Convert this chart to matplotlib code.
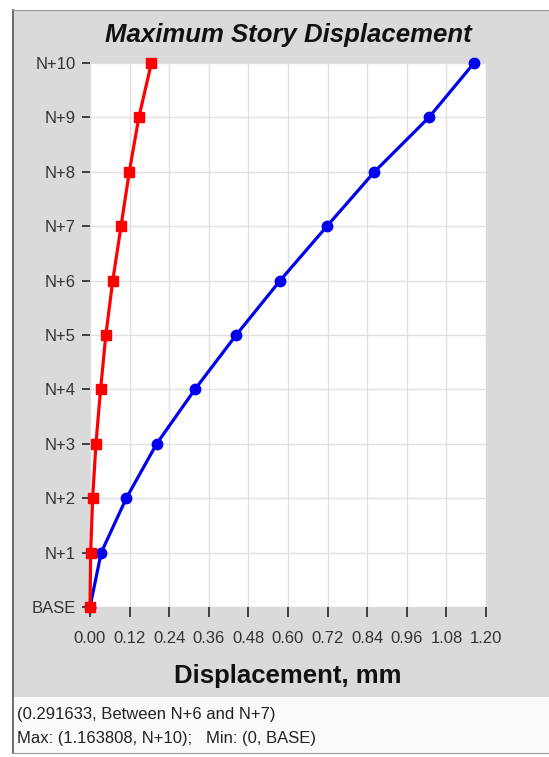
import matplotlib.pyplot as plt
from matplotlib.patches import Rectangle
from matplotlib.lines import Line2D
import numpy as np

stories = ["BASE", "N+1", "N+2", "N+3", "N+4", "N+5", "N+6", "N+7", "N+8", "N+9", "N+10"]
disp_blue = [0.0, 0.034, 0.110, 0.202, 0.318, 0.443, 0.576, 0.718, 0.862, 1.027, 1.163808]
disp_red = [0.0, 0.002, 0.008, 0.018, 0.032, 0.048, 0.069, 0.094, 0.119, 0.148, 0.186]
x_ticks = [0.00, 0.12, 0.24, 0.36, 0.48, 0.60, 0.72, 0.84, 0.96, 1.08, 1.20]
status_1 = "(0.291633, Between N+6 and N+7)"
status_2 = "Max: (1.163808, N+10);   Min: (0, BASE)"

plt.rcParams['font.family'] = ['Liberation Sans', 'DejaVu Sans']

W, H = 549, 757
fig = plt.figure(figsize=(W / 100, H / 100), dpi=100)
fig.patch.set_facecolor("white")

# gray panel + status strip + frame
fig.patches.append(Rectangle((13 / W, 1 - 697 / H), 1 - 13 / W, (697 - 10) / H,
                             transform=fig.transFigure, facecolor="#dadada",
                             edgecolor="none", zorder=-10))
fig.patches.append(Rectangle((13 / W, 1 - 753 / H), 1 - 13 / W, (753 - 697) / H,
                             transform=fig.transFigure, facecolor="#fafafa",
                             edgecolor="none", zorder=-10))
fig.lines.append(Line2D([13 / W, 13 / W], [1 - 753 / H, 1 - 10 / H],
                        transform=fig.transFigure, color="#555555", lw=1.2))
fig.lines.append(Line2D([13 / W, 1], [1 - 10 / H, 1 - 10 / H],
                        transform=fig.transFigure, color="#999999", lw=0.8))
fig.lines.append(Line2D([13 / W, 1], [1 - 753 / H, 1 - 753 / H],
                        transform=fig.transFigure, color="#999999", lw=0.8))

ax = fig.add_axes([90 / W, 1 - 607 / H, (486 - 90) / W, (607 - 63) / H])
ax.set_facecolor("white")
y = np.arange(len(stories))

ax.plot(disp_red, y, color="#ff0000", lw=2.3, marker="s", ms=6.5, clip_on=False, zorder=4)
ax.plot(disp_blue, y, color="#0000ee", lw=2.3, marker="o", ms=7.5, clip_on=False, zorder=3)

ax.set_xlim(0, 1.2)
ax.set_ylim(0, 10)
ax.set_xticks(x_ticks)
ax.set_xticklabels(["%.2f" % v for v in x_ticks])
ax.set_yticks(y)
ax.set_yticklabels(stories)
ax.grid(True, color="#e0e0e0", lw=1)
ax.set_axisbelow(True)
for s in ax.spines.values():
    s.set_visible(False)
ax.tick_params(axis="x", direction="out", length=7, width=1.3, color="#333333",
               labelsize=12, labelcolor="#333333", pad=10)
ax.tick_params(axis="y", direction="out", length=6, width=1.3, color="#333333",
               labelsize=12, labelcolor="#333333", pad=4)

fig.text(288 / W, 1 - 35 / H, "Maximum Story Displacement", ha="center", va="center",
         fontsize=18.5, fontweight="bold", fontstyle="italic", color="#111111")
fig.text(288 / W, 1 - 676 / H, "Displacement, mm", ha="center", va="center",
         fontsize=18.5, fontweight="bold", color="#111111")
fig.text(17 / W, 1 - 714 / H, status_1, ha="left", va="center", fontsize=12, color="#222222")
fig.text(17 / W, 1 - 738 / H, status_2, ha="left", va="center", fontsize=12, color="#222222")

fig.savefig("out.png", dpi=100)
